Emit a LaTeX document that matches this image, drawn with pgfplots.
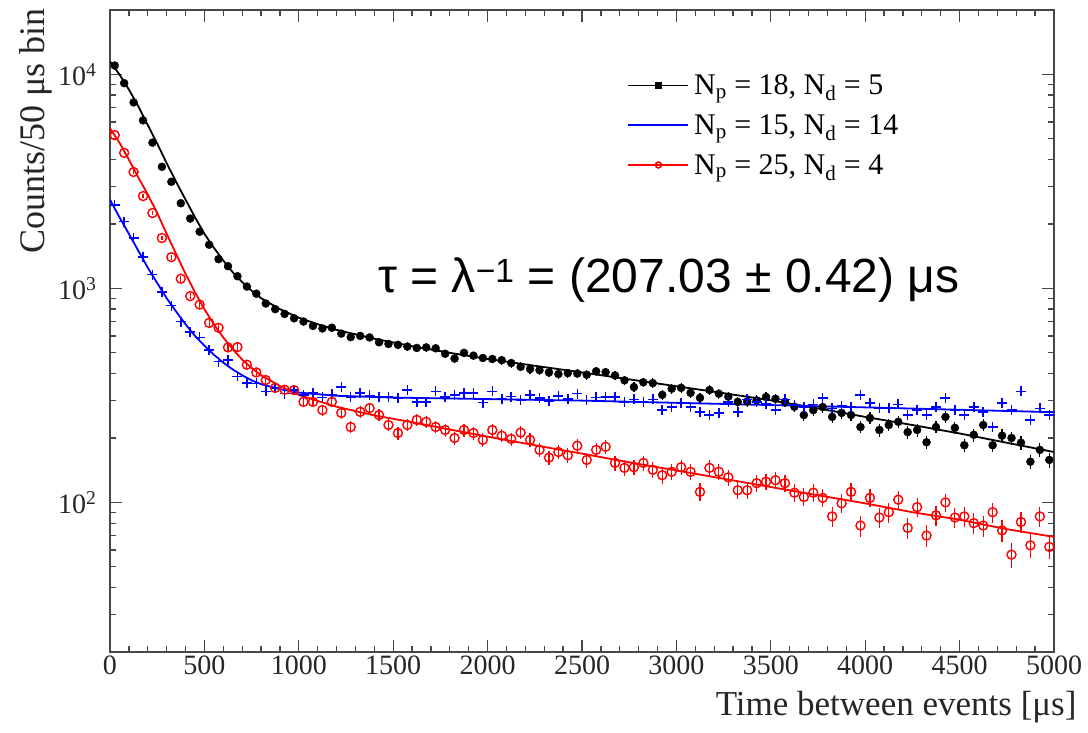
\documentclass[border=0pt]{standalone}
\usepackage{pgfplots}
\usepackage{pgfplotstable}
\pgfplotsset{compat=1.18}
\usepackage{fontspec}
\setmainfont{Liberation Serif}
\newfontfamily\sansfont{Liberation Sans}

\pgfplotstableread{
t y
25 11000
75 9100
125 7400
175 6100
225 4800
275 3700
325 3150
375 2500
425 2120
475 1840
525 1600
575 1370
625 1270
675 1140
725 1020
775 945
825 850
875 800
925 760
975 725
1025 700
1075 668
1125 650
1175 655
1225 615
1275 592
1325 600
1375 590
1425 560
1475 550
1525 545
1575 535
1625 527
1675 530
1725 525
1775 495
1825 470
1875 500
1925 485
1975 473
2025 468
2075 462
2125 448
2175 430
2225 420
2275 415
2325 405
2375 398
2425 402
2475 400
2525 395
2575 410
2625 406
2675 392
2725 372
2775 346
2825 364
2875 361
2925 318
2975 340
3025 343
3075 325
3125 308
3175 335
3225 322
3275 312
3325 295
3375 296
3425 300
3475 311
3525 305
3575 295
3625 280
3675 256
3725 270
3775 279
3825 251
3875 262
3925 256
3975 225
4025 248
4075 218
4125 230
4175 238
4225 213
4275 218
4325 191
4375 225
4425 251
4475 223
4525 185
4575 207
4625 230
4675 185
4725 205
4775 200
4825 190
4875 155
4925 176
4975 158
}\blackdata

\pgfplotstableread{
t y
0 11500
50 10000
100 8500
150 7100
200 5800
250 4750
300 3850
350 3150
400 2600
450 2150
500 1800
550 1550
600 1350
650 1190
700 1070
750 975
800 900
900 800
1000 730
1100 680
1200 640
1400 582
1600 537
1800 500
2000 468
2250 435
2500 405
2750 376
3000 349
3250 324
3500 300
3750 275
4000 251
4250 230
4500 210
4750 190
5000 172
}\blackfit

\pgfplotstableread{
t y
25 2450
75 2050
125 1720
175 1400
225 1160
275 960
325 830
375 700
425 625
475 590
525 515
575 455
625 462
675 388
725 362
775 360
825 330
875 343
925 322
975 335
1025 318
1075 325
1125 310
1175 320
1225 346
1275 311
1325 325
1375 316
1425 311
1475 311
1525 308
1575 335
1625 295
1675 295
1725 330
1775 311
1825 318
1875 325
1925 325
1975 293
2025 330
2075 305
2125 312
2175 300
2225 318
2275 308
2325 298
2375 315
2425 305
2475 322
2525 300
2575 310
2625 311
2675 311
2725 295
2775 303
2825 295
2875 303
2925 270
2975 279
3025 291
3075 279
3125 264
3175 256
3225 262
3275 295
3325 264
3375 303
3425 295
3475 288
3525 270
3575 303
3625 285
3675 279
3725 287
3775 307
3825 275
3875 282
3925 279
3975 318
4025 291
4075 275
4125 275
4175 287
4225 256
4275 270
4325 256
4375 279
4425 307
4475 270
4525 256
4575 279
4625 264
4675 225
4725 291
4775 270
4825 330
4875 243
4925 275
4975 256
}\bluedata

\pgfplotstableread{
t y
0 2600
50 2150
100 1800
150 1500
200 1250
250 1060
300 900
350 780
400 680
450 600
500 540
550 490
600 450
650 418
700 393
750 372
800 357
900 338
1000 326
1200 315
1500 309
2000 304
2500 299
3000 292
3500 285
4000 278
4500 271
5000 264
}\bluefit

\pgfplotstableread{
t y
25 5200
75 4300
125 3500
175 2700
225 2250
275 1720
325 1400
375 1110
425 920
475 840
525 690
575 655
625 530
675 532
725 440
775 405
825 373
875 343
925 336
975 335
1025 295
1075 295
1125 270
1175 295
1225 262
1275 225
1325 265
1375 276
1425 256
1475 230
1525 211
1575 230
1625 243
1675 238
1725 225
1775 218
1825 200
1875 218
1925 211
1975 196
2025 218
2075 205
2125 198
2175 212
2225 196
2275 176
2325 162
2375 172
2425 166
2475 184
2525 158
2575 176
2625 182
2675 153
2725 145
2775 146
2825 153
2875 142
2925 134
2975 139
3025 146
3075 139
3125 112
3175 145
3225 139
3275 131
3325 114
3375 114
3425 123
3475 125
3525 127
3575 123
3625 111
3675 106
3725 111
3775 105
3825 86
3875 99
3925 112
3975 78
4025 105
4075 85
4125 90
4175 103
4225 76
4275 95
4325 70
4375 87
4425 100
4475 85
4525 86
4575 80
4625 78
4675 90
4725 74
4775 57
4825 81
4875 63
4925 86
4975 62
}\reddata

\pgfplotstableread{
t y
0 5600
50 4800
100 4000
150 3300
200 2750
250 2250
300 1800
350 1450
400 1170
450 960
500 800
550 680
600 590
650 520
700 465
750 425
800 393
900 350
1000 318
1100 298
1200 280
1400 255
1600 237
1800 219
2000 203
2250 185
2500 169
2750 154
3000 141
3250 129
3500 118
3750 108
4000 99
4250 90
4500 83
4750 75
5000 69
}\redfit

\begin{document}
\begin{tikzpicture}
\begin{axis}[
  name=ax,
  scale only axis, width=944pt, height=642pt,
  xmin=0, xmax=5000, ymin=20, ymax=20000, ymode=log,
  axis line style={draw=black!72, line width=1.6pt},
  tick style={black!72, line width=1.3pt},
  major tick length=12pt, minor tick length=6pt,
  tick align=inside,
  xtick={0,500,...,5000}, minor x tick num=4,
  ytick={100,1000,10000},
  yticklabels={10\textsuperscript{2},10\textsuperscript{3},10\textsuperscript{4}},
  minor ytick={20,30,40,50,60,70,80,90,200,300,400,500,600,700,800,900,2000,3000,4000,5000,6000,7000,8000,9000},
  /pgf/number format/assume math mode=true,
  /pgf/number format/1000 sep={},
  ticklabel style={font=\fontsize{28}{32}\selectfont, text=black!85},
  yticklabel style={xshift=-10pt},
  xlabel={Time between events [μs]},
  ylabel={Counts/50 μs bin},
  xlabel style={font=\fontsize{35}{40}\selectfont, text=black!85, at={(axis description cs:1.0275,-0.056)}, anchor=north east},
  ylabel style={font=\fontsize{36}{40}\selectfont, text=black!85, at={(axis description cs:-0.058,1.008)}, anchor=south east},
  legend image code/.code={\draw[mark repeat=2,mark phase=2,#1] plot coordinates {(0pt,0pt) (30pt,0pt) (60pt,0pt)};},
  legend cell align=left,
  legend style={draw=none, fill=none, font=\fontsize{30}{34}\selectfont,
    at={(axis description cs:0.545,0.906)}, anchor=north west,
    nodes={inner xsep=5pt, inner ysep=2pt}, row sep=14.5pt},
  error bars/error bar style={line width=1.2pt},
]
\addlegendimage{black, line width=1.5pt, mark=square*, mark size=3pt}
\addlegendentry{N\textsubscript{p} = 18, N\textsubscript{d} = 5}
\addlegendimage{blue, line width=1.5pt}
\addlegendentry{N\textsubscript{p} = 15, N\textsubscript{d} = 14}
\addlegendimage{red, line width=1.5pt, mark=o, mark size=3pt}
\addlegendentry{N\textsubscript{p} = 25, N\textsubscript{d} = 4}

\addplot[black, line width=1.8pt, forget plot] table {\blackfit};
\addplot[only marks, mark=*, mark size=4pt, black, forget plot,
  error bars/.cd, y dir=both, y explicit, error mark=none]
  table[y error expr={sqrt(\thisrow{y})}] {\blackdata};

\addplot[blue, line width=1.8pt, forget plot] table {\bluefit};
\addplot[only marks, mark=+, mark size=5pt, blue, line width=1.5pt, forget plot] table {\bluedata};

\addplot[red, line width=1.8pt, forget plot] table {\redfit};
\addplot[only marks, mark=o, mark size=4.5pt, red, line width=1.4pt, forget plot,
  error bars/.cd, y dir=both, y explicit, error mark=none]
  table[y error expr={sqrt(\thisrow{y})}] {\reddata};

\node[anchor=base, font=\sansfont\fontsize{48}{52}\selectfont] at (axis cs:2960,962)
  {τ = λ\textsuperscript{−1} = (207.03 ± 0.42) μs};
\end{axis}
\pgfresetboundingbox
\path[use as bounding box] ([shift={(-110pt,-80pt)}]ax.south west) rectangle ([shift={(34pt,10pt)}]ax.north east);
\end{tikzpicture}
\end{document}
